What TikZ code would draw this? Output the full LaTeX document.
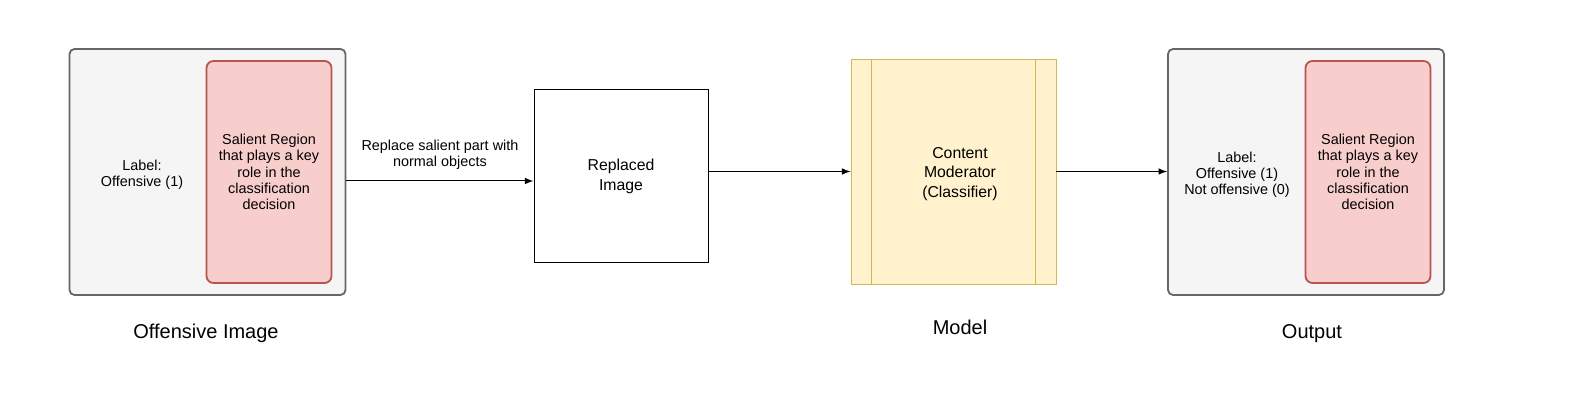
\documentclass[tikz,border=0pt]{standalone}
\usepackage{fontspec}
\setmainfont{Liberation Sans}
\usetikzlibrary{arrows}
\definecolor{boxgray}{HTML}{F5F5F5}
\definecolor{edgegray}{HTML}{666666}
\definecolor{salfill}{HTML}{F8CECC}
\definecolor{saledge}{HTML}{B85450}
\definecolor{modfill}{HTML}{FFF2CC}
\definecolor{modedge}{HTML}{D6B656}
\tikzset{
  imgbox/.style={draw=edgegray,fill=boxgray,rounded corners=2.5pt,line width=0.9pt,inner sep=0pt,minimum width=138pt,minimum height=123pt},
  salbox/.style={draw=saledge,fill=salfill,rounded corners=3.5pt,line width=0.9pt,minimum width=62.5pt,minimum height=111pt,align=center,font=\fontsize{7.2}{8.1}\selectfont},
  smalltxt/.style={align=center,font=\fontsize{7.2}{8.1}\selectfont},
  midtxt/.style={align=center,font=\fontsize{7.9}{9.75}\selectfont},
  captxt/.style={font=\fontsize{10}{12}\selectfont},
  conn/.style={-latex,line width=0.5pt}
}
\begin{document}
\begin{tikzpicture}[x=0.5pt,y=-0.5pt]
  \useasboundingbox (0,0) rectangle (1576,411);
  \node[imgbox](offimg)at(207.5,172){};
  \node[salbox](salin)at(269,172){Salient Region\\that plays a key\\role in the\\classification\\decision};
  \node[smalltxt](labin)at(142,175){Label:\\Offensive (1)};
  \node[captxt](capin)at(206,333){Offensive Image};

  \node[draw,line width=0.5pt,minimum width=87pt,minimum height=86.5pt,midtxt](repl)at(621,176.5){Replaced\\Image};

  \node[draw=modedge,fill=modfill,line width=0.45pt,minimum width=102.5pt,minimum height=112.5pt](moder)at(953.5,171.5){};
  \draw[modedge,line width=0.45pt] ([xshift=10.5pt]moder.north west) -- ([xshift=10.5pt]moder.south west);
  \draw[modedge,line width=0.45pt] ([xshift=-10.5pt]moder.north east) -- ([xshift=-10.5pt]moder.south east);
  \node[midtxt](modtxt)at(960,174){Content\\Moderator\\(Classifier)};
  \node[captxt](capmod)at(960,327){Model};

  \node[imgbox](outimg)at(1306,172){};
  \node[salbox](salout)at(1368,172){Salient Region\\that plays a key\\role in the\\classification\\decision};
  \node[smalltxt](labout)at(1237,175){Label:\\Offensive (1)\\Not offensive (0)};
  \node[captxt](capout)at(1312,334){Output};

  \coordinate (r1) at ([yshift=-2.25pt]repl.west);
  \draw[conn] (r1 -| offimg.east) -- (r1) node[midway,above=2pt,smalltxt]{Replace salient part with\\normal objects};
  \draw[conn] (repl.east |- moder.west) -- (moder.west);
  \draw[conn] (moder.east) -- (moder.east -| outimg.west);
\end{tikzpicture}
\end{document}
